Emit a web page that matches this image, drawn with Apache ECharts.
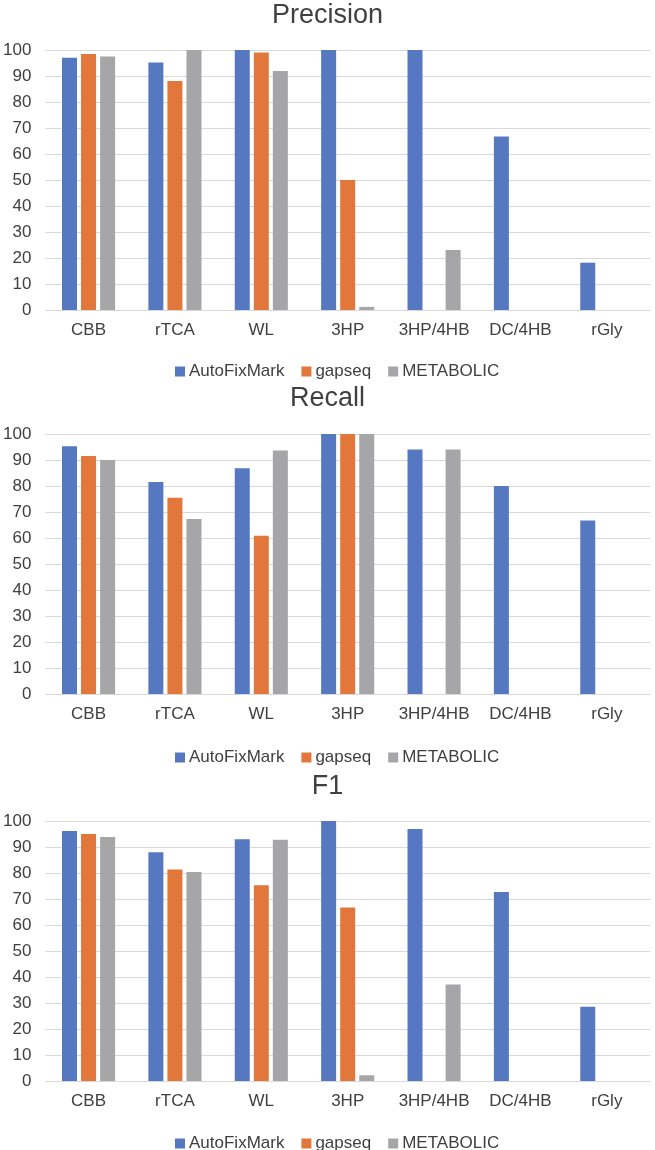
<!DOCTYPE html>
<html>
<head>
<meta charset="utf-8">
<script src="https://cdn.jsdelivr.net/npm/echarts@6/dist/echarts.min.js"></script>
<style>
  html, body { margin: 0; padding: 0; background: #fff; }
  #main { width: 655px; height: 1150px; }
</style>
</head>
<body>
<div id="main"></div>
<script>
// categories and legend
var categories = ['CBB', 'rTCA', 'WL', '3HP', '3HP/4HB', 'DC/4HB', 'rGly'];
var toolNames = ['AutoFixMark', 'gapseq', 'METABOLIC'];
var yTicks = [0, 10, 20, 30, 40, 50, 60, 70, 80, 90, 100];

// Precision
var precisionAuto = [97, 95.2, 100, 100, 100, 66.7, 18.2];
var precisionGapseq = [98.5, 88.1, 99, 50, 0, 0, 0];
var precisionMeta = [97.5, 100, 91.9, 1.2, 23.1, 0, 0];

// Recall
var recallAuto = [95.3, 81.5, 86.8, 100, 94, 80, 66.7];
var recallGapseq = [91.5, 75.5, 60.9, 100, 0, 0, 0];
var recallMeta = [90, 67.3, 93.7, 100, 94, 0, 0];

// F1
var f1Auto = [96.2, 88, 93, 100, 96.9, 72.7, 28.6];
var f1Gapseq = [95, 81.3, 75.3, 66.7, 0, 0, 0];
var f1Meta = [93.8, 80.4, 92.8, 2.2, 37.1, 0, 0];

var colors = ['#5578C1', '#E2773C', '#A6A6A8'];
var txt = '#404040';
var font = 'Liberation Sans, Arial, sans-serif';

var panels = [
    { title: 'Precision', data: [precisionAuto, precisionGapseq, precisionMeta], titleTop: -3, gridTop: 50, legendTop: 358 },
    { title: 'Recall', data: [recallAuto, recallGapseq, recallMeta], titleTop: 380, gridTop: 434, legendTop: 744 },
    { title: 'F1', data: [f1Auto, f1Gapseq, f1Meta], titleTop: 768, gridTop: 821, legendTop: 1130 }
];

var option = {
    animation: false,
    color: colors,
    title: [],
    legend: [],
    grid: [],
    xAxis: [],
    yAxis: [],
    series: []
};

for (var p = 0; p < panels.length; p++) {
    var pn = panels[p];
    option.title.push({
        text: pn.title,
        left: 'center',
        top: pn.titleTop,
        textStyle: { color: txt, fontFamily: font, fontSize: 27, fontWeight: 'normal' }
    });
    // zero-width suffix keeps each panel's legend tied to its own series
    var names = [];
    for (var k = 0; k < toolNames.length; k++) {
        names.push(toolNames[k] + '\u200b'.repeat(p));
    }
    option.legend.push({
        data: names,
        left: 170,
        top: pn.legendTop,
        itemWidth: 10,
        itemHeight: 10,
        itemGap: 17,
        icon: 'rect',
        textStyle: { color: txt, fontFamily: font, fontSize: 17, padding: [0, 0, 0, -1] }
    });
    option.grid.push({
        left: 44,
        right: 5,
        top: pn.gridTop,
        height: 260,
        containLabel: false
    });
    option.xAxis.push({
        type: 'category',
        gridIndex: p,
        data: categories,
        axisTick: { show: false },
        axisLine: { lineStyle: { color: '#D9D9D9', width: 1 } },
        axisLabel: { color: txt, fontFamily: font, fontSize: 17, margin: 12, interval: 0 }
    });
    option.yAxis.push({
        type: 'value',
        gridIndex: p,
        min: yTicks[0],
        max: yTicks[yTicks.length - 1],
        interval: 10,
        axisLine: { show: false },
        axisTick: { show: false },
        axisLabel: { color: txt, fontFamily: font, fontSize: 17, margin: 14 },
        splitLine: { lineStyle: { color: '#D9D9D9', width: 1 } }
    });
    for (var s = 0; s < toolNames.length; s++) {
        option.series.push({
            name: names[s],
            type: 'bar',
            xAxisIndex: p,
            yAxisIndex: p,
            data: pn.data[s],
            barWidth: 15,
            barGap: '27%',
            itemStyle: { color: colors[s] }
        });
    }
}

var chart = echarts.init(document.getElementById('main'));
chart.setOption(option);
</script>
</body>
</html>
